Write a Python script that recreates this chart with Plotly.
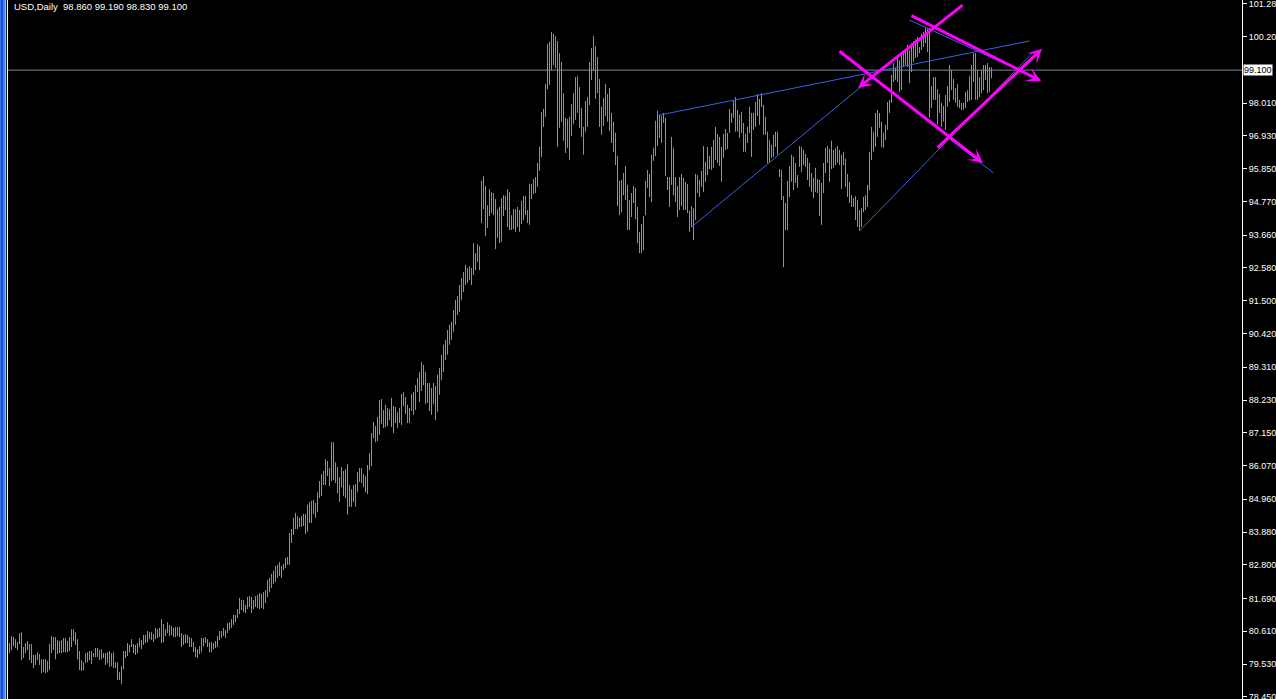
import plotly.graph_objects as go

# ---------------- data ----------------
title_text = "USD,Daily  98.860 99.190 98.830 99.100"
last_price = 99.10
last_price_label = "99.100"

tick_values = [101.28, 100.20, 98.01, 96.93, 95.85, 94.77, 93.66, 92.58, 91.50, 90.42,
               89.31, 88.23, 87.15, 86.07, 84.96, 83.88, 82.80, 81.69, 80.61, 79.53, 78.45]
tick_labels = ["101.28", "100.20", "98.010", "96.930", "95.850", "94.770", "93.660", "92.580",
               "91.500", "90.420", "89.310", "88.230", "87.150", "86.070", "84.960", "83.880",
               "82.800", "81.690", "80.610", "79.530", "78.450"]

highs = [
    80.22, 80.45, 80.42, 80.35, 80.25, 80.55, 80.58, 80.09, 80.22, 80.29,
    80.19, 80.19, 79.83, 79.83, 79.92, 79.86, 79.69, 79.69, 79.69, 79.63,
    80.19, 80.45, 80.42, 80.42, 80.32, 80.29, 80.32, 80.39, 80.39, 80.29,
    80.42, 80.68, 80.68, 80.58, 80.35, 79.96, 79.66, 79.59, 79.89, 79.92,
    79.96, 79.96, 79.89, 80.06, 80.06, 79.99, 80.02, 79.89, 79.89, 79.92,
    79.96, 79.89, 79.92, 79.59, 79.59, 79.26, 79.46, 79.96, 79.96, 80.22,
    80.16, 80.35, 80.19, 80.16, 80.22, 80.39, 80.32, 80.49, 80.49, 80.62,
    80.58, 80.58, 80.52, 80.72, 80.68, 80.72, 81.01, 80.85, 80.68, 80.91,
    80.82, 80.78, 80.72, 80.75, 80.75, 80.75, 80.55, 80.49, 80.52, 80.49,
    80.42, 80.39, 80.25, 80.09, 80.02, 80.12, 80.39, 80.39, 80.42, 80.35,
    80.25, 80.25, 80.22, 80.29, 80.45, 80.62, 80.62, 80.72, 80.65, 80.88,
    80.91, 81.01, 81.15, 81.15, 81.34, 81.71, 81.64, 81.64, 81.48, 81.74,
    81.77, 81.74, 81.64, 81.77, 81.81, 81.87, 81.84, 81.90, 81.97, 82.30,
    82.37, 82.50, 82.60, 82.76, 82.80, 82.89, 82.76, 82.83, 83.03, 83.06,
    83.85, 83.98, 84.35, 84.51, 84.41, 84.35, 84.41, 84.48, 84.48, 84.78,
    84.87, 84.91, 84.94, 84.84, 85.19, 85.56, 85.79, 85.89, 86.28, 86.22,
    85.99, 86.84, 86.84, 86.18, 86.02, 85.69, 86.02, 85.89, 85.95, 86.12,
    85.43, 85.29, 85.43, 85.46, 85.86, 85.99, 85.99, 85.79, 85.72, 86.09,
    86.48, 87.14, 87.50, 87.37, 87.67, 88.23, 88.26, 87.90, 88.07, 87.97,
    87.93, 88.30, 88.03, 88.00, 87.83, 87.97, 88.43, 88.49, 88.33, 88.07,
    87.97, 88.43, 88.49, 88.72, 88.96, 89.15, 89.48, 89.39, 89.15, 88.79,
    88.79, 88.63, 88.79, 88.69, 89.06, 89.29, 89.72, 90.05, 90.21, 90.54,
    90.71, 90.80, 91.20, 91.53, 91.66, 92.02, 92.25, 92.45, 92.68, 92.58,
    92.64, 92.58, 93.40, 93.07, 93.37, 93.30, 95.45, 95.61, 95.28, 94.65,
    95.18, 95.08, 95.05, 94.85, 94.52, 94.59, 94.88, 94.98, 94.95, 95.18,
    95.08, 94.32, 94.52, 94.52, 94.59, 94.49, 94.79, 94.95, 94.95, 94.49,
    95.35, 95.35, 95.51, 95.58, 96.04, 96.57, 97.72, 97.82, 98.64, 99.96,
    100.03, 100.36, 100.29, 100.22, 100.06, 99.66, 99.37, 98.34, 97.53, 97.49,
    97.56, 97.99, 98.34, 98.87, 98.90, 98.54, 97.85, 97.23, 98.08, 98.21,
    99.37, 99.83, 100.22, 99.89, 99.53, 98.81, 97.89, 98.18, 98.64, 98.31,
    98.51, 97.69, 97.40, 97.04, 96.27, 95.45, 95.48, 95.71, 95.94, 95.32,
    94.82, 95.05, 95.28, 95.22, 94.59, 93.77, 94.03, 94.29, 95.45, 95.81,
    95.68, 96.31, 96.54, 97.43, 97.76, 97.63, 97.59, 97.69, 97.53, 95.58,
    95.58, 96.90, 96.54, 95.58, 95.28, 95.58, 95.68, 95.55, 95.42, 95.35,
    94.46, 94.62, 94.55, 95.68, 95.64, 95.48, 95.78, 96.60, 96.08, 96.57,
    96.27, 96.57, 96.80, 97.23, 97.00, 96.90, 96.57, 97.00, 97.16, 97.03,
    97.82, 97.69, 98.09, 98.21, 97.79, 97.63, 97.72, 97.36, 97.00, 97.23,
    97.89, 97.69, 97.69, 98.05, 98.31, 98.15, 98.34, 97.95, 97.56, 97.07,
    96.80, 96.64, 96.97, 97.07, 97.07, 95.84, 95.81, 94.95, 94.72, 95.45,
    95.94, 96.31, 96.24, 96.04, 95.64, 96.60, 96.57, 96.47, 96.34, 96.21,
    96.04, 95.71, 95.55, 95.88, 95.51, 95.48, 95.38, 96.04, 96.54, 96.60,
    96.50, 96.77, 96.47, 96.54, 96.60, 96.47, 96.31, 96.41, 96.18, 95.68,
    95.42, 94.98, 94.88, 94.95, 94.82, 94.49, 94.55, 94.92, 94.98, 95.32,
    96.41, 97.23, 97.07, 97.69, 97.79, 97.69, 97.40, 97.04, 97.30, 98.05,
    98.12, 98.94, 99.33, 99.17, 99.50, 99.43, 99.70, 99.70, 99.76, 99.93,
    99.76, 99.99, 100.06, 100.12, 100.19, 99.86, 100.29, 100.35, 100.49, 100.45,
    100.49, 98.57, 98.87, 98.87, 98.47, 98.31, 98.02, 97.92, 98.28, 98.57,
    99.27, 99.10, 98.81, 98.51, 98.64, 98.12, 98.02, 98.02, 98.38, 98.44,
    98.90, 99.27, 99.66, 99.66, 99.10, 98.87, 99.10, 99.27, 99.27, 99.33,
    99.20, 99.19,
]

lows = [
    79.89, 79.99, 80.12, 80.06, 79.99, 80.19, 79.66, 79.73, 79.89, 79.99,
    79.66, 79.56, 79.40, 79.50, 79.66, 79.50, 79.23, 79.26, 79.23, 79.26,
    79.33, 79.89, 79.99, 79.69, 79.86, 79.89, 79.89, 79.92, 79.92, 79.92,
    79.96, 80.09, 80.29, 80.16, 79.69, 79.33, 79.30, 79.33, 79.56, 79.59,
    79.66, 79.53, 79.76, 79.76, 79.76, 79.66, 79.69, 79.73, 79.50, 79.56,
    79.43, 79.46, 79.40, 79.40, 79.00, 79.00, 78.87, 79.36, 79.73, 79.79,
    79.92, 80.09, 79.89, 79.83, 79.89, 80.09, 80.02, 80.16, 80.22, 80.25,
    80.35, 80.32, 80.25, 80.35, 80.39, 80.42, 80.22, 80.25, 80.45, 80.55,
    80.45, 80.49, 80.42, 80.42, 80.45, 80.42, 80.09, 80.16, 80.22, 80.22,
    80.09, 80.09, 79.92, 79.76, 79.73, 79.86, 79.92, 80.12, 80.22, 80.09,
    79.92, 79.92, 80.02, 80.06, 80.09, 80.32, 80.39, 80.45, 80.39, 80.55,
    80.65, 80.72, 80.82, 80.91, 81.05, 81.18, 81.31, 81.25, 81.21, 81.34,
    81.41, 81.21, 81.34, 81.41, 81.38, 81.34, 81.38, 81.34, 81.54, 81.74,
    81.90, 82.04, 82.17, 82.24, 82.37, 82.43, 82.37, 82.63, 82.70, 82.80,
    82.80, 83.52, 83.79, 83.98, 83.98, 84.05, 84.05, 84.08, 83.82, 83.89,
    84.18, 84.18, 84.48, 84.35, 84.54, 85.00, 85.06, 85.43, 85.43, 85.72,
    85.39, 85.56, 85.59, 85.49, 85.16, 84.87, 85.36, 85.06, 85.00, 84.45,
    84.71, 84.71, 84.87, 84.71, 85.19, 85.53, 85.49, 85.36, 85.19, 85.13,
    85.92, 86.05, 86.97, 86.84, 86.88, 87.08, 87.44, 87.31, 87.34, 87.37,
    87.57, 87.34, 87.14, 87.47, 87.31, 87.47, 87.41, 88.03, 87.77, 87.47,
    87.47, 87.87, 87.74, 87.90, 88.49, 88.16, 88.53, 88.72, 88.10, 88.13,
    87.87, 87.74, 88.10, 87.57, 87.84, 88.40, 88.89, 89.15, 89.55, 89.72,
    90.05, 90.21, 90.48, 90.71, 91.03, 91.13, 91.53, 91.79, 92.02, 92.09,
    92.18, 92.02, 92.35, 92.51, 92.78, 92.51, 94.06, 94.52, 93.63, 93.90,
    94.29, 94.39, 94.32, 93.20, 93.57, 93.40, 93.44, 94.29, 94.49, 93.93,
    93.83, 93.83, 93.86, 93.77, 93.93, 93.77, 94.03, 94.16, 94.32, 94.06,
    94.00, 94.85, 95.02, 95.05, 95.25, 95.78, 96.24, 97.23, 97.56, 98.47,
    98.61, 99.10, 99.27, 99.17, 96.57, 97.20, 97.40, 96.77, 96.37, 96.54,
    96.14, 96.93, 97.33, 97.46, 97.69, 97.20, 96.90, 96.31, 97.07, 97.23,
    97.95, 98.77, 99.07, 98.15, 98.34, 97.23, 96.97, 97.26, 97.59, 97.40,
    97.10, 96.70, 96.41, 95.97, 94.62, 94.32, 94.42, 94.98, 94.82, 93.83,
    93.83, 94.26, 94.72, 94.19, 93.40, 93.07, 93.07, 93.17, 94.32, 95.22,
    94.92, 94.75, 96.11, 96.27, 96.60, 96.87, 96.70, 97.36, 95.61, 95.15,
    94.59, 95.32, 94.98, 94.75, 94.26, 94.49, 94.62, 94.49, 94.49, 94.39,
    93.77, 93.93, 93.50, 94.16, 95.05, 94.92, 95.25, 95.08, 95.42, 95.64,
    95.84, 95.81, 95.88, 96.14, 96.04, 95.94, 95.42, 96.21, 96.47, 96.50,
    97.03, 97.36, 97.53, 97.07, 97.07, 96.87, 97.03, 96.41, 96.41, 96.70,
    97.03, 96.24, 97.13, 97.23, 97.59, 97.30, 97.89, 96.97, 96.97, 96.04,
    96.04, 96.21, 96.24, 96.57, 96.31, 95.58, 94.82, 92.61, 93.83, 93.83,
    94.92, 95.42, 95.15, 95.38, 95.22, 95.91, 95.74, 95.97, 95.91, 95.48,
    95.25, 95.08, 94.88, 95.08, 95.05, 94.29, 94.00, 95.05, 95.71, 96.04,
    95.42, 95.84, 95.88, 95.97, 96.04, 95.97, 95.18, 95.97, 95.25, 94.92,
    94.72, 94.59, 94.59, 94.16, 93.93, 93.80, 93.93, 94.42, 94.49, 94.59,
    95.15, 96.14, 96.41, 96.57, 96.90, 97.20, 96.57, 96.54, 96.80, 97.13,
    97.69, 98.02, 98.71, 98.77, 98.71, 98.38, 98.44, 99.20, 99.27, 99.20,
    98.67, 99.04, 99.37, 99.50, 99.53, 99.66, 99.76, 99.86, 99.99, 99.70,
    97.53, 97.85, 98.12, 98.12, 97.30, 97.69, 97.23, 97.40, 97.13, 97.89,
    98.05, 98.44, 98.12, 98.02, 97.89, 97.85, 97.79, 97.79, 97.85, 98.05,
    98.09, 98.12, 98.71, 98.12, 98.12, 98.21, 98.34, 98.44, 98.77, 98.34,
    98.38, 98.83,
]

if len(highs) != len(lows):
    raise ValueError("length mismatch %d %d" % (len(highs), len(lows)))

# trendlines: (bar0, price0, bar1, price1)
blue_lines = [
    (325.0, 97.62, 510.0, 100.06),
    (341.0, 93.93, 433.0, 98.95),
    (425.0, 93.80, 512.0, 99.70),
    (450.0, 100.75, 498.0, 99.30),
    (470.25, 96.82, 492.0, 95.71),
]
# arrowed lines: (tail bar, tail price, head bar, head price)
magenta_arrows = [
    (477.25, 101.28, 424.25, 98.51),
    (414.25, 99.76, 486.75, 96.04),
    (450.25, 100.92, 515.75, 98.74),
    (463.25, 96.50, 516.25, 99.80),
]

# ---------------- style ----------------
W, H = 1276, 699
ML, MR = 8, 34
PLOT_W = W - ML - MR
BAR_COLOR = "#35d61e"
BLUE = "#3a62e6"
MAGENTA = "#ff00ff"
FONT = "Liberation Sans"

x_range = [-0.75, -0.75 + PLOT_W / 2.0]
y_range = [101.41 - H / 30.35, 101.41]

xs, ys = [], []
for i, (hi, lo) in enumerate(zip(highs, lows)):
    xs += [i, i, None]
    ys += [lo, hi, None]

fig = go.Figure()
fig.add_trace(go.Scatter(x=xs, y=ys, mode="lines",
                         line=dict(color=BAR_COLOR, width=1, simplify=False),
                         hoverinfo="skip", showlegend=False))

shapes = []
# bid line
shapes.append(dict(type="line", xref="paper", yref="y", x0=0, x1=1, y0=last_price, y1=last_price,
                   line=dict(color="#778899", width=1), layer="below"))
for (a0, p0, a1, p1) in blue_lines:
    shapes.append(dict(type="line", xref="x", yref="y", x0=a0, y0=p0, x1=a1, y1=p1,
                       line=dict(color=BLUE, width=1)))


def px2paper(px):
    return (px - ML) / PLOT_W


# window frame strip on the left
frame = [(0, 1, "#3a6fe0"), (1, 3, "#1450e0"), (3, 5, "#3c82f5"), (5, 6, "#8cc0ff"),
         (6, 7, "#0a1430"), (7, 8, "#ffffff")]
for (p0, p1, c) in frame:
    shapes.append(dict(type="rect", xref="paper", yref="paper", x0=px2paper(p0), x1=px2paper(p1),
                       y0=0, y1=1, fillcolor=c, line=dict(width=0), layer="above"))

annotations = []
for (ta, tp, ha, hp) in magenta_arrows:
    annotations.append(dict(x=ha, y=hp, ax=ta, ay=tp, xref="x", yref="y", axref="x", ayref="y",
                            text="", showarrow=True, arrowhead=3, arrowsize=0.8, arrowwidth=3,
                            arrowcolor=MAGENTA, standoff=0, startstandoff=0))
annotations.append(dict(x=1, xref="paper", xanchor="left", xshift=1, y=last_price, yref="y",
                        text=last_price_label, showarrow=False, bgcolor="#ffffff",
                        font=dict(family=FONT, size=9, color="#000000"), borderpad=0))
annotations.append(dict(x=px2paper(12), xref="paper", xanchor="left", y=1, yref="paper",
                        yanchor="top", yshift=1, text=title_text, showarrow=False,
                        font=dict(family=FONT, size=9.5, color="#ffffff")))

fig.update_layout(
    width=W, height=H,
    margin=dict(l=ML, r=MR, t=0, b=0, pad=0),
    paper_bgcolor="#000000", plot_bgcolor="#000000",
    showlegend=False,
    shapes=shapes, annotations=annotations,
    xaxis=dict(range=x_range, visible=False, fixedrange=True),
    yaxis=dict(range=y_range, side="right", showgrid=False, zeroline=False,
               showline=True, linecolor="#ffffff", linewidth=1,
               ticks="outside", ticklen=4, tickwidth=1, tickcolor="#ffffff",
               tickvals=tick_values, ticktext=tick_labels, automargin=False,
               ticklabeloverflow="allow",
               tickfont=dict(family=FONT, size=9, color="#ffffff"), fixedrange=True),
    hovermode=False,
)

fig.write_html("out.html", config={"displayModeBar": False},
               post_script="document.body.style.margin='0';document.body.style.overflow='hidden';")
